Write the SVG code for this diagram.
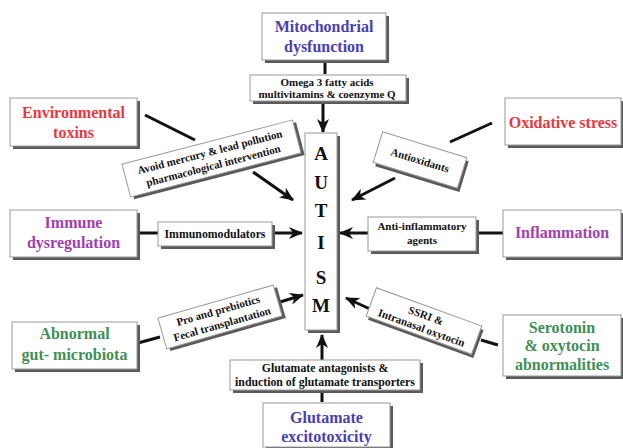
<svg xmlns="http://www.w3.org/2000/svg" width="623" height="448" viewBox="0 0 623 448">
<style>
.box{fill:#fff;stroke:#9a9a9a;stroke-width:1}
.sh{fill:#5a5a5a}
.t{font-family:"Liberation Serif","Times New Roman",serif;font-weight:bold;text-anchor:middle}
.big{font-size:16px}
.sm{font-size:11px;fill:#111}
.md{font-size:11.8px;fill:#111}
.blue{fill:#4a3fb0}
.red{fill:#e8383d}
.pur{fill:#a23fb0}
.grn{fill:#3f8f55}
.ln{stroke:#111;stroke-width:3;fill:none}
.ar{stroke:#111;stroke-width:3;fill:none;marker-end:url(#ah)}
.au{font-family:"Liberation Serif","Times New Roman",serif;font-weight:bold;font-size:19px;text-anchor:middle;fill:#111}
</style>
<defs>
<marker id="ah" viewBox="0 0 14 12" refX="13" refY="6" markerWidth="14" markerHeight="12" markerUnits="userSpaceOnUse" orient="auto">
<path d="M0,0 L14,6 L0,12 L4,6 z" fill="#111"/>
</marker>
</defs>
<rect width="623" height="448" fill="#fff"/>

<g id="connectors">
<line class="ln" x1="325" y1="61" x2="325" y2="74"/>
<line class="ar" x1="323" y1="102" x2="323" y2="132"/>
<line class="ln" x1="145" y1="115" x2="195" y2="140"/>
<line class="ar" x1="253" y1="172" x2="293" y2="200"/>
<line class="ln" x1="492" y1="123" x2="450" y2="142"/>
<line class="ar" x1="395" y1="178" x2="352" y2="200"/>
<line class="ln" x1="138" y1="233" x2="158" y2="233"/>
<line class="ar" x1="272" y1="233" x2="302" y2="233"/>
<line class="ln" x1="476" y1="233" x2="503" y2="233"/>
<line class="ar" x1="368" y1="233" x2="340" y2="233"/>
<line class="ln" x1="138" y1="343" x2="160" y2="337"/>
<line class="ar" x1="280" y1="302" x2="303" y2="295"/>
<line class="ln" x1="481" y1="340" x2="498" y2="345"/>
<line class="ar" x1="370" y1="309" x2="346" y2="298"/>
<line class="ar" x1="322" y1="360" x2="322" y2="335"/>
<line class="ln" x1="322" y1="390" x2="322" y2="402"/>
</g>

<g id="autism">
<rect class="sh" x="308" y="136" width="32" height="197"/>
<rect class="box" x="305" y="133" width="32" height="197"/>
<text class="au" x="321" y="160">A</text>
<text class="au" x="321" y="189">U</text>
<text class="au" x="321" y="217">T</text>
<text class="au" x="321" y="249">I</text>
<text class="au" x="321" y="284">S</text>
<text class="au" x="321" y="312">M</text>
</g>

<g id="mitochondrial">
<rect class="sh" x="265" y="16" width="124" height="47"/>
<rect class="box" x="262" y="13" width="124" height="47"/>
<text class="t big blue" x="324" y="32">Mitochondrial</text>
<text class="t big blue" x="324" y="52">dysfunction</text>
</g>

<g id="omega">
<rect class="sh" x="253" y="78" width="156" height="26"/>
<rect class="box" x="250" y="75" width="156" height="26"/>
<text class="t sm" x="327" y="86">Omega 3 fatty acids</text>
<text class="t sm" x="327" y="98">multivitamins &amp; coenzyme Q</text>
</g>

<g id="environmental">
<rect class="sh" x="13" y="101" width="127" height="48"/>
<rect class="box" x="10" y="98" width="127" height="48"/>
<text class="t big red" x="73.5" y="118">Environmental</text>
<text class="t big red" x="73.5" y="138">toxins</text>
</g>

<g id="avoid" transform="translate(211.5,158.5) rotate(-14.5)">
<rect class="sh" x="-85" y="-14" width="176" height="34"/>
<rect class="box" x="-88" y="-17" width="176" height="34"/>
<text class="t sm" x="0" y="-3">Avoid mercury &amp; lead pollution</text>
<text class="t sm" x="0" y="11">pharmacological intervention</text>
</g>

<g id="oxidative">
<rect class="sh" x="508" y="101" width="116" height="47"/>
<rect class="box" x="505" y="98" width="116" height="47"/>
<text class="t big red" x="563" y="128">Oxidative stress</text>
</g>

<g id="antioxidants" transform="translate(420,160) rotate(17)">
<rect class="sh" x="-41" y="-13" width="88" height="32"/>
<rect class="box" x="-44" y="-16" width="88" height="32"/>
<text class="t sm" x="0" y="4">Antioxidants</text>
</g>

<g id="immune">
<rect class="sh" x="13" y="213" width="127" height="47"/>
<rect class="box" x="10" y="210" width="127" height="47"/>
<text class="t big pur" x="73.5" y="228">Immune</text>
<text class="t big pur" x="73.5" y="248">dysregulation</text>
</g>

<g id="immunomodulators">
<rect class="sh" x="161" y="225" width="114" height="24"/>
<rect class="box" x="158" y="222" width="114" height="24"/>
<text class="t md" x="215" y="238">Immunomodulators</text>
</g>

<g id="inflammation">
<rect class="sh" x="506" y="213" width="118" height="47"/>
<rect class="box" x="503" y="210" width="118" height="47"/>
<text class="t big pur" x="562" y="238">Inflammation</text>
</g>

<g id="antiinflammatory">
<rect class="sh" x="371" y="220" width="108" height="34"/>
<rect class="box" x="368" y="217" width="108" height="34"/>
<text class="t sm" x="422" y="230">Anti-inflammatory</text>
<text class="t sm" x="422" y="244">agents</text>
</g>

<g id="gut">
<rect class="sh" x="15" y="325" width="125" height="47"/>
<rect class="box" x="12" y="322" width="125" height="47"/>
<text class="t big grn" x="74.5" y="339">Abnormal</text>
<text class="t big grn" x="74.5" y="360">gut- microbiota</text>
</g>

<g id="probiotics" transform="translate(220,317) rotate(-16)">
<rect class="sh" x="-57" y="-13" width="120" height="32"/>
<rect class="box" x="-60" y="-16" width="120" height="32"/>
<text class="t sm" x="0" y="-3">Pro and prebiotics</text>
<text class="t sm" x="0" y="11">Fecal transplantation</text>
</g>

<g id="serotonin">
<rect class="sh" x="506" y="318" width="118" height="61"/>
<rect class="box" x="503" y="315" width="118" height="61"/>
<text class="t big grn" x="562" y="333">Serotonin</text>
<text class="t big grn" x="562" y="351">&amp; oxytocin</text>
<text class="t big grn" x="562" y="370">abnormalities</text>
</g>

<g id="ssri" transform="translate(424,321) rotate(20)">
<rect class="sh" x="-53" y="-12" width="112" height="30"/>
<rect class="box" x="-56" y="-15" width="112" height="30"/>
<text class="t sm" x="0" y="-2">SSRI &amp;</text>
<text class="t sm" x="0" y="11">Intranasal oxytocin</text>
</g>

<g id="glutamate-antagonists">
<rect class="sh" x="233" y="363" width="190" height="30"/>
<rect class="box" x="230" y="360" width="190" height="30"/>
<text class="t md" x="325" y="372">Glutamate antagonists &amp;</text>
<text class="t md" x="325" y="386">induction of glutamate transporters</text>
</g>

<g id="glutamate">
<rect class="sh" x="266" y="406" width="127" height="44"/>
<rect class="box" x="263" y="403" width="127" height="44"/>
<text class="t big blue" x="326.5" y="423">Glutamate</text>
<text class="t big blue" x="326.5" y="442">excitotoxicity</text>
</g>
</svg>
